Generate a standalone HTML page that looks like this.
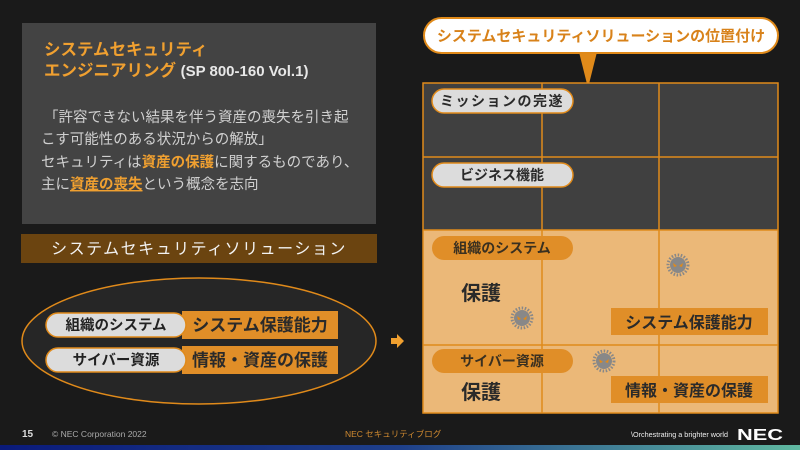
<!DOCTYPE html>
<html><head><meta charset="utf-8"><style>
body{margin:0;width:800px;height:450px;overflow:hidden;background:#1a1a1a;font-family:"Liberation Sans","Noto Sans CJK JP",sans-serif}
svg{position:absolute;left:0;top:0}
.t{font-family:"Liberation Sans","Noto Sans CJK JP",sans-serif}
</style></head><body>
<svg width="800" height="450" viewBox="0 0 800 450">
<defs>
<linearGradient id="bg" x1="0" x2="1" y1="0" y2="0"><stop offset="0" stop-color="#0a1a7a"/><stop offset="0.5" stop-color="#1e3f8a"/><stop offset="1" stop-color="#5fb8a0"/></linearGradient>
<g id="virus"><circle r="8" fill="#888"/><circle r="10" fill="none" stroke="#888" stroke-width="3" stroke-dasharray="1.5 1.6"/><path d="M-5,-2 L-1,1 L-4,2Z M5,-2 L1,1 L4,2Z" fill="#e08a1a"/></g>
</defs>
<rect width="800" height="450" fill="#1a1a1a"/>
<rect x="22" y="23" width="354" height="201" fill="#434343"/>
<text class="t" x="44" y="55" font-size="16.5" font-weight="bold" fill="#f0a030">システムセキュリティ</text>
<text class="t" x="44" y="76" font-size="16.5" font-weight="bold" fill="#f0a030">エンジニアリング <tspan fill="#e8e8e8" font-size="15">(SP 800-160 Vol.1)</tspan></text>
<g class="t" font-size="14.5" fill="#d0d0d0">
<text x="44" y="122">「許容できない結果を伴う資産の喪失を引き起</text>
<text x="41" y="144">こす可能性のある状況からの解放」</text>
<text x="41" y="167">セキュリティは<tspan fill="#f0a030" font-weight="bold">資産の保護</tspan>に関するものであり、</text>
<text x="41" y="189">主に<tspan fill="#f0a030" font-weight="bold" text-decoration="underline">資産の喪失</tspan>という概念を志向</text>
</g>
<rect x="21" y="234" width="356" height="29" fill="#6b4410"/>
<text class="t" x="199" y="254" font-size="16" fill="#f2f2f2" text-anchor="middle" letter-spacing="1.5">システムセキュリティソリューション</text>
<ellipse cx="199" cy="341" rx="177" ry="63" fill="#262626" stroke="#e08a1a" stroke-width="1.5"/>
<rect x="182" y="311" width="156" height="28" fill="#e08e28"/>
<rect x="182" y="346" width="156" height="28" fill="#e08e28"/>
<rect x="46" y="313" width="140" height="24" rx="12" fill="#dcdcdc" stroke="#e08a1a" stroke-width="1.5"/>
<rect x="46" y="348" width="140" height="24" rx="12" fill="#dcdcdc" stroke="#e08a1a" stroke-width="1.5"/>
<g class="t" font-weight="bold">
<text x="116" y="330" font-size="14.5" fill="#222" text-anchor="middle">組織のシステム</text>
<text x="116" y="365" font-size="14.5" fill="#222" text-anchor="middle">サイバー資源</text>
<text x="260" y="331" font-size="17" fill="#2a2a2a" text-anchor="middle">システム保護能力</text>
<text x="260" y="366" font-size="17" fill="#2a2a2a" text-anchor="middle">情報・資産の保護</text>
</g>
<path d="M391,338 h6 v-4 l7,7 l-7,7 v-4 h-6z" fill="#f0a030"/>
<path d="M579,52 L588,88 L597,52Z" fill="#e08a1a"/>
<rect x="424" y="18" width="354" height="35" rx="17.5" fill="#fff" stroke="#e08a1a" stroke-width="2"/>
<text class="t" x="601" y="41" font-size="15" font-weight="bold" fill="#d8821a" text-anchor="middle">システムセキュリティソリューションの位置付け</text>
<rect x="423" y="83" width="355" height="147" fill="#404040"/>
<rect x="423" y="230" width="355" height="183" fill="#ebb878"/>
<g stroke="#e08a1a" stroke-width="1.5" fill="none">
<rect x="423" y="83" width="355" height="330"/>
<line x1="542" y1="83" x2="542" y2="413"/>
<line x1="659" y1="83" x2="659" y2="413"/>
<line x1="423" y1="157" x2="778" y2="157"/>
<line x1="423" y1="230" x2="778" y2="230"/>
<line x1="423" y1="345" x2="778" y2="345"/>
</g>
<rect x="432" y="89" width="141" height="24" rx="12" fill="#dcdcdc" stroke="#e08a1a" stroke-width="1.5"/>
<rect x="432" y="163" width="141" height="24" rx="12" fill="#dcdcdc" stroke="#e08a1a" stroke-width="1.5"/>
<rect x="432" y="236" width="141" height="24" rx="12" fill="#e08e28"/>
<rect x="432" y="349" width="141" height="24" rx="12" fill="#e08e28"/>
<rect x="611" y="308" width="157" height="27" fill="#e08e28"/>
<rect x="611" y="376" width="157" height="27" fill="#e08e28"/>
<g class="t" font-weight="bold" fill="#2a2a2a">
<text x="502" y="106" font-size="14" text-anchor="middle" letter-spacing="1.5">ミッションの完遂</text>
<text x="502" y="180" font-size="14" text-anchor="middle">ビジネス機能</text>
<text x="502" y="253" font-size="14" text-anchor="middle" fill="#3a3020">組織のシステム</text>
<text x="502" y="366" font-size="14" text-anchor="middle" fill="#3a3020">サイバー資源</text>
<text x="481" y="300" font-size="20" text-anchor="middle">保護</text>
<text x="481" y="399" font-size="20" text-anchor="middle">保護</text>
<text x="689" y="328" font-size="16" text-anchor="middle">システム保護能力</text>
<text x="689" y="396" font-size="16" text-anchor="middle">情報・資産の保護</text>
</g>
<use href="#virus" x="678" y="265"/>
<use href="#virus" x="522" y="318"/>
<use href="#virus" x="604" y="361"/>
<text class="t" x="22" y="437" font-size="10" font-weight="bold" fill="#ddd">15</text>
<text class="t" x="52" y="437" font-size="8.5" fill="#aaa">© NEC Corporation 2022</text>
<text class="t" x="345" y="437" font-size="8.5" fill="#d08a30">NEC セキュリティブログ</text>
<text class="t" x="631" y="437" font-size="7.5" fill="#eee" textLength="97" lengthAdjust="spacingAndGlyphs">\Orchestrating a brighter world</text>
<text class="t" x="737" y="440" font-size="16" font-weight="bold" fill="#fff" textLength="46" lengthAdjust="spacingAndGlyphs">NEC</text>
<rect x="0" y="445" width="800" height="5" fill="url(#bg)"/>
</svg>
</body></html>
